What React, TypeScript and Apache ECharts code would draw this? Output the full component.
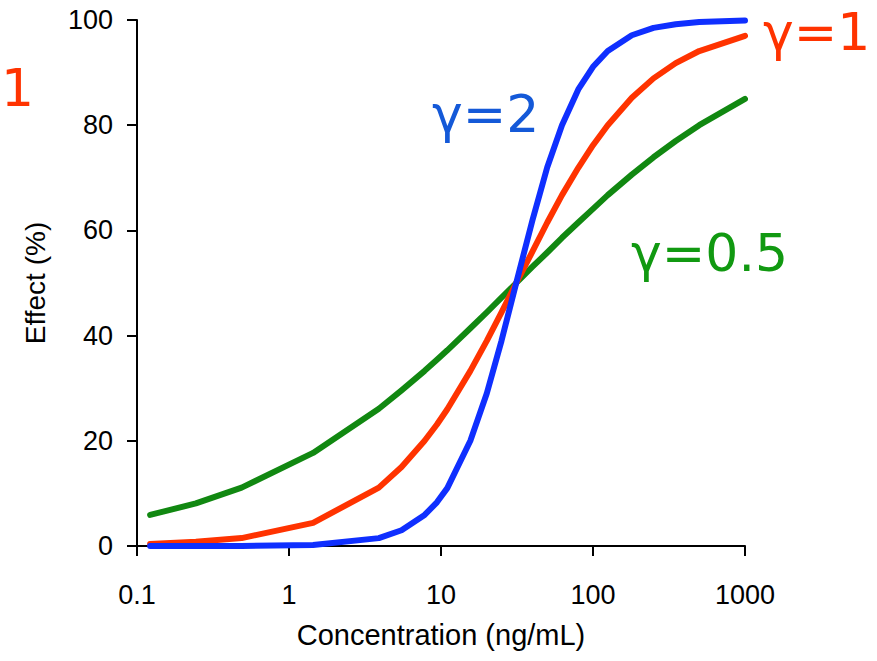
import React, { useEffect, useRef } from "react";
import * as echarts from "echarts";

// Drug concentrations (ng/mL) at which the effect is sampled
const concentrations = [
  0.122, 0.244, 0.488, 1.44, 3.9, 5.5, 7.8, 9.4, 11, 15.6, 20, 25, 31.25, 40,
  50, 62.5, 80, 100, 125, 180, 250, 350, 500, 1000,
];

// Effect (%) for each Hill coefficient
const effectGamma2 = [
  0.0, 0.0, 0.0, 0.2, 1.5, 3.0, 5.9, 8.3, 11, 20, 29, 39, 50, 62, 72, 80,
  86.8, 91.1, 94.1, 97.1, 98.5, 99.2, 99.6, 99.9,
];
const effectGamma1 = [
  0.4, 0.8, 1.5, 4.4, 11.1, 15, 20, 23.1, 26, 33.3, 39, 44.4, 50, 56, 61.5,
  66.7, 71.9, 76.2, 80, 85.2, 88.9, 91.8, 94.1, 97,
];
const effectGamma05 = [
  5.9, 8.1, 11.1, 17.7, 26.1, 29.6, 33.3, 35.4, 37.2, 41.4, 44.4, 47.2, 50,
  53.1, 55.8, 58.6, 61.5, 64.1, 66.7, 70.6, 73.9, 77, 80, 85,
];

const xTickLabels = ["0.1", "1", "10", "100", "1000"];
const yTicks = [0, 20, 40, 60, 80, 100];

const RED = "#ff3300";
const BLUE_LINE = "#0f2fff";
const BLUE_TEXT = "#1459d8";
const GREEN_LINE = "#118811";
const GREEN_TEXT = "#119911";

const pairs = (ys: number[]) => concentrations.map((c, i) => [c, ys[i]]);

const labelFont = "'DejaVu Sans', Verdana, sans-serif";
const axisFont = "'Liberation Sans', Arial, sans-serif";

// Curve label placed at its left edge, vertically centred on y
const curveLabel = (x: number, y: number, text: string, fill: string) => ({
  type: "text",
  x,
  y,
  style: { text, fill, font: `52px ${labelFont}`, verticalAlign: "middle" },
});

export default function App() {
  const ref = useRef<HTMLDivElement>(null);

  useEffect(() => {
    if (!ref.current) return;
    const chart = echarts.init(ref.current, undefined, { renderer: "svg" });
    const lineSeries = (name: string, ys: number[], color: string) => ({
      name,
      type: "line",
      data: pairs(ys),
      showSymbol: false,
      smooth: false,
      lineStyle: { color, width: 6, cap: "round", join: "round" },
      z: 3,
    });
    chart.setOption({
      animation: false,
      backgroundColor: "#ffffff",
      grid: { left: 137, right: 132, top: 20, bottom: 115, containLabel: false },
      xAxis: {
        type: "log",
        logBase: 10,
        min: 0.1,
        max: 1000,
        name: "Concentration (ng/mL)",
        nameLocation: "middle",
        nameGap: 74,
        nameTextStyle: { fontFamily: axisFont, fontSize: 29, color: "#000" },
        axisLine: { lineStyle: { color: "#000", width: 2 } },
        axisTick: { show: true, length: 10, lineStyle: { color: "#000", width: 2 } },
        axisLabel: {
          fontFamily: axisFont,
          fontSize: 27,
          color: "#000",
          margin: 35,
          formatter: (v: number) => {
            const idx = Math.round(Math.log10(v)) + 1;
            return xTickLabels[idx] ?? String(v);
          },
        },
        splitLine: { show: false },
        minorTick: { show: false },
      },
      yAxis: {
        type: "value",
        min: yTicks[0],
        max: yTicks[yTicks.length - 1],
        interval: 20,
        name: "Effect (%)",
        nameLocation: "middle",
        nameGap: 88,
        nameTextStyle: { fontFamily: axisFont, fontSize: 28, color: "#000" },
        axisLine: { show: true, lineStyle: { color: "#000", width: 2 } },
        axisTick: { show: true, length: 10, lineStyle: { color: "#000", width: 2 } },
        axisLabel: { fontFamily: axisFont, fontSize: 27, color: "#000", margin: 24 },
        splitLine: { show: false },
      },
      series: [
        lineSeries("γ=0.5", effectGamma05, GREEN_LINE),
        lineSeries("γ=1", effectGamma1, RED),
        lineSeries("γ=2", effectGamma2, BLUE_LINE),
      ],
      graphic: [
        {
          type: "text",
          left: 1,
          top: 62,
          style: { text: "1", fill: RED, font: `52px ${labelFont}` },
        },
        curveLabel(432, 114, "γ=2", BLUE_TEXT),
        curveLabel(763, 32, "γ=1", RED),
        curveLabel(631, 253, "γ=0.5", GREEN_TEXT),
      ],
    });
    return () => chart.dispose();
  }, []);

  return (
    <div
      ref={ref}
      style={{ position: "fixed", left: 0, top: 0, width: 877, height: 661 }}
    />
  );
}
